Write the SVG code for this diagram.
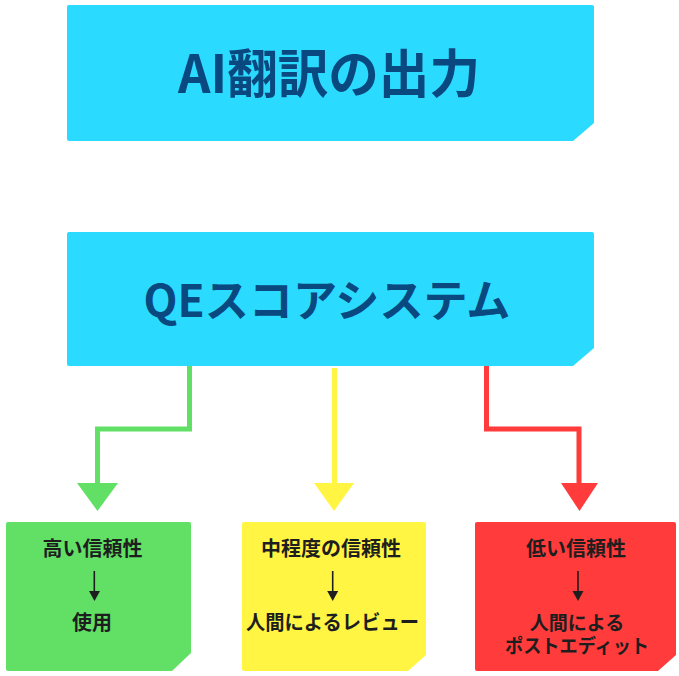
<svg xmlns="http://www.w3.org/2000/svg" width="679" height="676" viewBox="0 0 679 676">
<style>
.t{font-family:"Noto Sans CJK JP","Noto Sans",sans-serif;font-weight:700;text-anchor:middle}
.big{fill:#0a4880}
.small{fill:#1e1e1e;font-size:20px}
.cyan{fill:#2bdaff}
.conn{fill:none;stroke-width:5}
.sa{stroke:#1e1e1e;stroke-width:1.6;fill:none}
</style>
<rect width="679" height="676" fill="#ffffff"/>
<g id="node-output">
<path class="cyan" d="M69,5 H592 Q594,5 594,7 V123 L573,141 H69 Q67,141 67,139 V7 Q67,5 69,5 Z"/>
<text class="t big" x="329" y="93" font-size="52" textLength="302" lengthAdjust="spacingAndGlyphs">AI翻訳の出力</text>
</g>
<g id="node-qe">
<path class="cyan" d="M69,232 H592 Q594,232 594,234 V348 L573,366 H69 Q67,366 67,364 V234 Q67,232 69,232 Z"/>
<text class="t big" x="327" y="317" font-size="44" textLength="367" lengthAdjust="spacingAndGlyphs">QEスコアシステム</text>
</g>
<g id="connectors">
<polyline class="conn" stroke="#62e066" points="189.5,366 189.5,429 97.5,429 97.5,484"/>
<polygon fill="#62e066" points="77,483 118,483 97.5,511"/>
<polyline class="conn" stroke="#fff542" points="334.5,368 334.5,484"/>
<polygon fill="#fff542" points="314,483 354,483 334,511"/>
<polyline class="conn" stroke="#ff3b3b" points="486.5,366 486.5,429 579,429 579,484"/>
<polygon fill="#ff3b3b" points="561,483 598,483 579.5,511"/>
</g>
<g id="node-high">
<path fill="#62e066" d="M8,522 H189 Q191,522 191,524 V653 L172,671 H8 Q6,671 6,669 V524 Q6,522 8,522 Z"/>
<text class="t small" x="92.5" y="556">高い信頼性</text>
<line class="sa" x1="94.3" y1="571" x2="94.3" y2="592"/>
<polygon fill="#1e1e1e" points="89,591 100,591 94.5,601"/>
<text class="t small" x="92" y="630">使用</text>
</g>
<g id="node-mid">
<path fill="#fff542" d="M244,522 H424 Q426,522 426,524 V655 L408,671 H244 Q242,671 242,669 V524 Q242,522 244,522 Z"/>
<text class="t small" x="331" y="556">中程度の信頼性</text>
<line class="sa" x1="332.7" y1="571" x2="332.7" y2="592"/>
<polygon fill="#1e1e1e" points="327.2,591 338.2,591 332.7,601"/>
<text class="t small" x="332.5" y="630" textLength="173" lengthAdjust="spacingAndGlyphs">人間によるレビュー</text>
</g>
<g id="node-low">
<path fill="#ff3b3b" d="M477,522 H674 Q676,522 676,524 V655 L658,671 H477 Q475,671 475,669 V524 Q475,522 477,522 Z"/>
<text class="t small" x="576" y="556">低い信頼性</text>
<line class="sa" x1="578" y1="571" x2="578" y2="592"/>
<polygon fill="#1e1e1e" points="572.5,591 583.5,591 578,601"/>
<text class="t small" x="577" y="630" style="font-size:19px">人間による</text>
<text class="t small" x="577" y="653" style="font-size:19px" textLength="144" lengthAdjust="spacingAndGlyphs">ポストエディット</text>
</g>
</svg>
